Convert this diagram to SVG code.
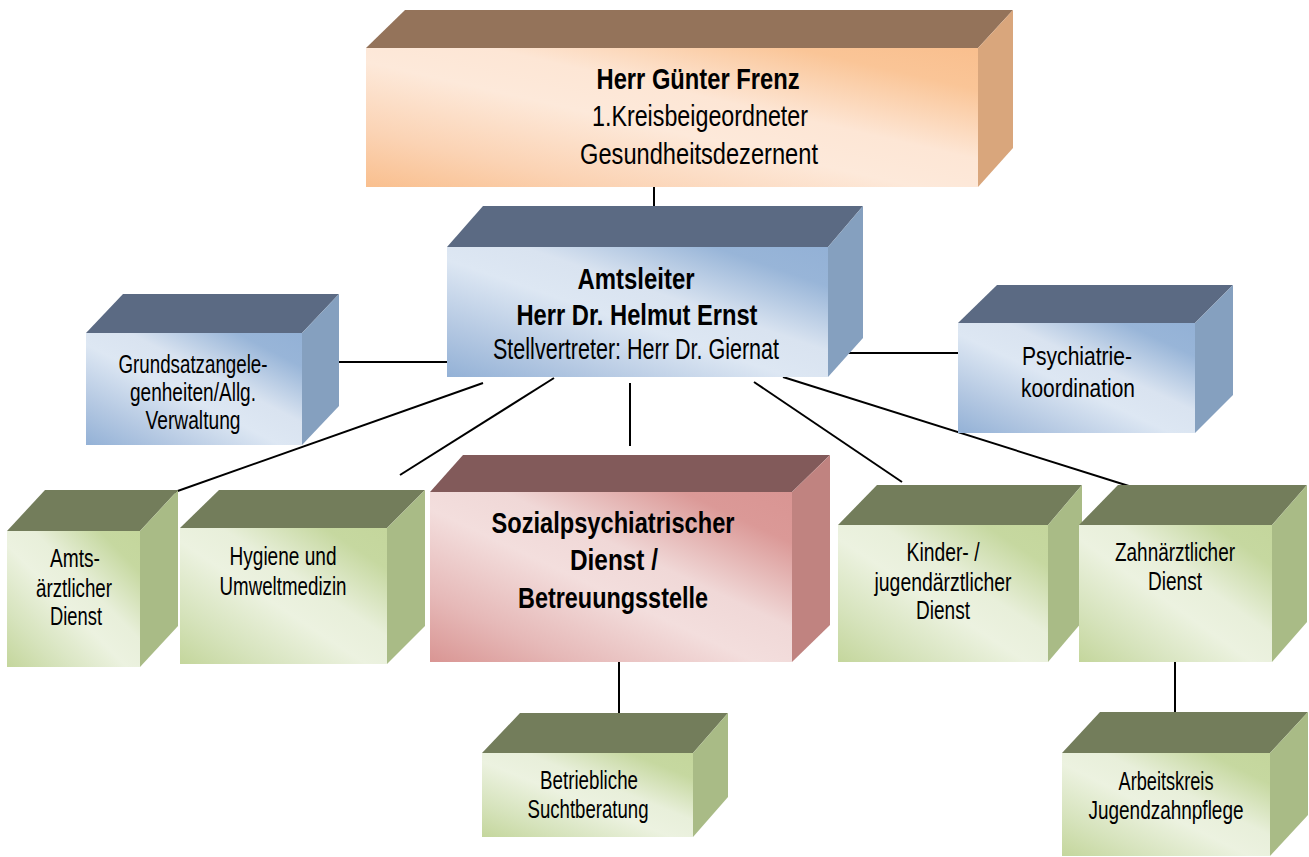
<svg xmlns="http://www.w3.org/2000/svg" width="1309" height="857" viewBox="0 0 1309 857">
<defs>
<linearGradient id="gO" x1="0" y1="1" x2="1" y2="0"><stop offset="0" stop-color="#f9bf8e"/><stop offset="0.2" stop-color="#fbd3b4"/><stop offset="0.45" stop-color="#fde9da"/><stop offset="0.6" stop-color="#fde6d5"/><stop offset="0.85" stop-color="#fac597"/><stop offset="1" stop-color="#f9bf8e"/></linearGradient>
<linearGradient id="gB" x1="0" y1="1" x2="1" y2="0"><stop offset="0" stop-color="#93b1d6"/><stop offset="0.2" stop-color="#b4c8e2"/><stop offset="0.45" stop-color="#dde7f3"/><stop offset="0.6" stop-color="#d9e3f0"/><stop offset="0.85" stop-color="#98b5d8"/><stop offset="1" stop-color="#93b1d6"/></linearGradient>
<linearGradient id="gG" x1="0" y1="1" x2="1" y2="0"><stop offset="0" stop-color="#c4d69c"/><stop offset="0.2" stop-color="#d6e3bc"/><stop offset="0.45" stop-color="#ecf2e0"/><stop offset="0.6" stop-color="#e8efda"/><stop offset="0.85" stop-color="#c6d8a0"/><stop offset="1" stop-color="#c4d69c"/></linearGradient>
<linearGradient id="gR" x1="0" y1="1" x2="1" y2="0"><stop offset="0" stop-color="#d99593"/><stop offset="0.2" stop-color="#e6b9b8"/><stop offset="0.45" stop-color="#f3dedd"/><stop offset="0.6" stop-color="#f0d8d7"/><stop offset="0.85" stop-color="#db9997"/><stop offset="1" stop-color="#d99593"/></linearGradient>
</defs>
<style>
.tO{fill:#94735a}.sO{fill:#d9a67c}.fO{fill:url(#gO)}
.tB{fill:#5b6a83}.sB{fill:#85a0bf}.fB{fill:url(#gB)}
.tG{fill:#737d5b}.sG{fill:#a9bb86}.fG{fill:url(#gG)}
.tR{fill:#825a5a}.sR{fill:#c08380}.fR{fill:url(#gR)}
text{font-family:"Liberation Sans",Arial,sans-serif;fill:#000;text-anchor:middle}
.b{font-weight:bold}
.l{font-size:29px}
.bl{font-size:30px}
.m{font-size:25px}
.line{stroke:#000;stroke-width:2;fill:none}
</style>

<g id="connectors">
<line class="line" x1="654" y1="187" x2="654" y2="207"/>
<line class="line" x1="339" y1="362" x2="447" y2="362"/>
<line class="line" x1="848" y1="353" x2="958" y2="353"/>
<line class="line" x1="483" y1="383" x2="172" y2="493"/>
<line class="line" x1="554" y1="378" x2="400" y2="475"/>
<line class="line" x1="630" y1="383" x2="630" y2="446"/>
<line class="line" x1="754" y1="382" x2="902" y2="482"/>
<line class="line" x1="783" y1="377" x2="1132" y2="487"/>
<line class="line" x1="619" y1="662" x2="619" y2="713"/>
<line class="line" x1="1175" y1="662" x2="1175" y2="712"/>
</g>

<g id="frenz">
<polygon class="tO" points="366,48 405,10 1013,10 978,48"/>
<polygon class="sO" points="978,48 1013,10 1013,148 978,187"/>
<rect class="fO" x="366" y="48" width="612" height="139"/>
<text class="b bl" x="698" y="89" textLength="203" lengthAdjust="spacingAndGlyphs">Herr Günter Frenz</text>
<text class="l" x="700" y="126" textLength="216" lengthAdjust="spacingAndGlyphs">1.Kreisbeigeordneter</text>
<text class="l" x="699" y="164" textLength="238" lengthAdjust="spacingAndGlyphs">Gesundheitsdezernent</text>
</g>

<g id="amtsleiter">
<polygon class="tB" points="447,247 483,206 863,206 828,247"/>
<polygon class="sB" points="828,247 863,206 863,338 828,377"/>
<rect class="fB" x="447" y="247" width="381" height="130"/>
<text class="b bl" x="636" y="289" textLength="117" lengthAdjust="spacingAndGlyphs">Amtsleiter</text>
<text class="b bl" x="637" y="325" textLength="241" lengthAdjust="spacingAndGlyphs">Herr Dr. Helmut Ernst</text>
<text class="l" x="636" y="359" textLength="286" lengthAdjust="spacingAndGlyphs">Stellvertreter: Herr Dr. Giernat</text>
</g>

<g id="grundsatz">
<polygon class="tB" points="86,333 123,294 339,294 302,333"/>
<polygon class="sB" points="302,333 339,294 339,406 302,445"/>
<rect class="fB" x="86" y="333" width="216" height="112"/>
<text class="m" x="193" y="373" textLength="149" lengthAdjust="spacingAndGlyphs">Grundsatzangele-</text>
<text class="m" x="193" y="401" textLength="126" lengthAdjust="spacingAndGlyphs">genheiten/Allg.</text>
<text class="m" x="193" y="429" textLength="95" lengthAdjust="spacingAndGlyphs">Verwaltung</text>
</g>

<g id="psychiatrie">
<polygon class="tB" points="958,323 997,285 1233,285 1195,323"/>
<polygon class="sB" points="1195,323 1233,285 1233,395 1195,433"/>
<rect class="fB" x="958" y="323" width="237" height="110"/>
<text class="m" x="1077" y="365" textLength="110" lengthAdjust="spacingAndGlyphs">Psychiatrie-</text>
<text class="m" x="1078" y="397" textLength="114" lengthAdjust="spacingAndGlyphs">koordination</text>
</g>

<g id="amtsaerztlich">
<polygon class="tG" points="7,531 45,490 178,490 140,531"/>
<polygon class="sG" points="140,531 178,490 178,626 140,667"/>
<rect class="fG" x="7" y="531" width="133" height="136"/>
<text class="m" x="75" y="567" textLength="50" lengthAdjust="spacingAndGlyphs">Amts-</text>
<text class="m" x="74" y="597" textLength="76" lengthAdjust="spacingAndGlyphs">ärztlicher</text>
<text class="m" x="76" y="625" textLength="52" lengthAdjust="spacingAndGlyphs">Dienst</text>
</g>

<g id="hygiene">
<polygon class="tG" points="180,528 219,490 425,490 387,528"/>
<polygon class="sG" points="387,528 425,490 425,626 387,664"/>
<rect class="fG" x="180" y="528" width="207" height="136"/>
<text class="m" x="283" y="565" textLength="107" lengthAdjust="spacingAndGlyphs">Hygiene und</text>
<text class="m" x="283" y="595" textLength="127" lengthAdjust="spacingAndGlyphs">Umweltmedizin</text>
</g>

<g id="sozial">
<polygon class="tR" points="430,492 463,455 830,455 792,492"/>
<polygon class="sR" points="792,492 830,455 830,625 792,662"/>
<rect class="fR" x="430" y="492" width="362" height="170"/>
<text class="b bl" x="613" y="533" textLength="243" lengthAdjust="spacingAndGlyphs">Sozialpsychiatrischer</text>
<text class="b bl" x="614" y="570" textLength="88" lengthAdjust="spacingAndGlyphs">Dienst /</text>
<text class="b bl" x="613" y="608" textLength="190" lengthAdjust="spacingAndGlyphs">Betreuungsstelle</text>
</g>

<g id="kinder">
<polygon class="tG" points="838,525 877,485 1082,485 1048,525"/>
<polygon class="sG" points="1048,525 1082,485 1082,622 1048,662"/>
<rect class="fG" x="838" y="525" width="210" height="137"/>
<text class="m" x="943" y="561" textLength="73" lengthAdjust="spacingAndGlyphs">Kinder- /</text>
<text class="m" x="943" y="591" textLength="137" lengthAdjust="spacingAndGlyphs">jugendärztlicher</text>
<text class="m" x="943" y="619" textLength="54" lengthAdjust="spacingAndGlyphs">Dienst</text>
</g>

<g id="zahn">
<polygon class="tG" points="1079,525 1118,485 1307,485 1272,525"/>
<polygon class="sG" points="1272,525 1307,485 1307,622 1272,662"/>
<rect class="fG" x="1079" y="525" width="193" height="137"/>
<text class="m" x="1175" y="561" textLength="120" lengthAdjust="spacingAndGlyphs">Zahnärztlicher</text>
<text class="m" x="1175" y="590" textLength="54" lengthAdjust="spacingAndGlyphs">Dienst</text>
</g>

<g id="betrieblich">
<polygon class="tG" points="482,753 520,713 728,713 693,753"/>
<polygon class="sG" points="693,753 728,713 728,797 693,837"/>
<rect class="fG" x="482" y="753" width="211" height="84"/>
<text class="m" x="589" y="789" textLength="98" lengthAdjust="spacingAndGlyphs">Betriebliche</text>
<text class="m" x="588" y="818" textLength="121" lengthAdjust="spacingAndGlyphs">Suchtberatung</text>
</g>

<g id="arbeitskreis">
<polygon class="tG" points="1062,753 1100,712 1308,712 1270,753"/>
<polygon class="sG" points="1270,753 1308,712 1308,815 1270,856"/>
<rect class="fG" x="1062" y="753" width="208" height="103"/>
<text class="m" x="1166" y="790" textLength="95" lengthAdjust="spacingAndGlyphs">Arbeitskreis</text>
<text class="m" x="1166" y="819" textLength="155" lengthAdjust="spacingAndGlyphs">Jugendzahnpflege</text>
</g>
</svg>
